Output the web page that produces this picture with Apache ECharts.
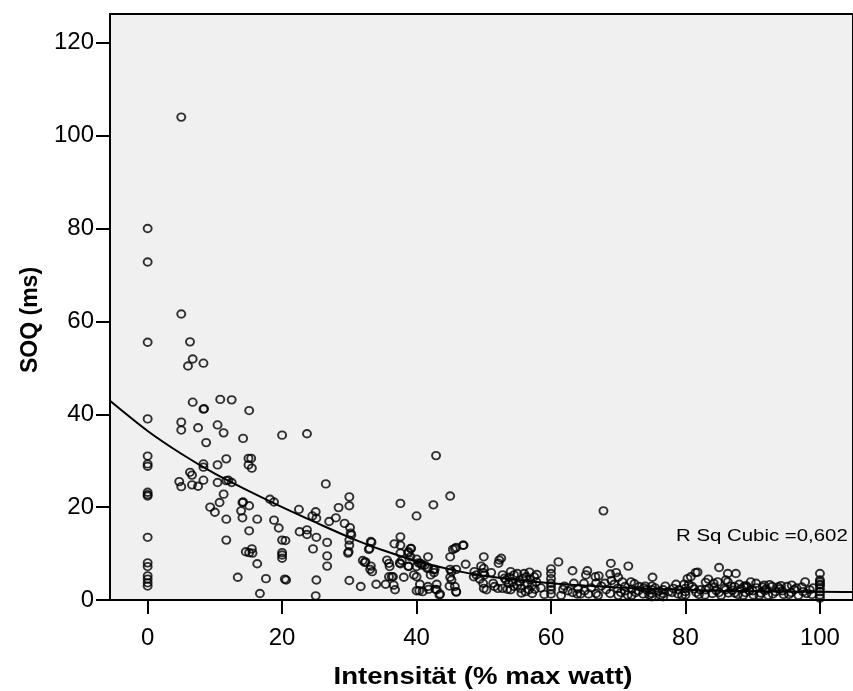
<!DOCTYPE html>
<html>
<head>
<meta charset="utf-8">
<script src="https://cdn.jsdelivr.net/npm/echarts@6/dist/echarts.min.js"></script>
<style>
html,body{margin:0;padding:0;background:#fff;}
#c{width:853px;height:691px;}
</style>
</head>
<body>
<div id="c"></div>
<script>
// ---- data ----
var xTicks = [0, 20, 40, 60, 80, 100];
var yTicks = [0, 20, 40, 60, 80, 100, 120];

var intensity = [
  0,0,0,0,0,0,0,0,0,0,0,0,0,0,0,0,0,
  5.0,5.0,6.3,6.7,6.0,8.3,6.7,8.3,8.4,10.8,12.5,15.1,5.0,5.0,7.5,10.4,11.3,8.7,14.2,20.0,23.7,
  11.7,15.0,15.4,15.0,15.5,8.3,8.3,10.4,6.3,6.6,4.7,5.0,6.6,7.5,8.3,10.4,11.7,12.0,12.5,11.3,10.7,9.3,10.0,11.7,11.7,
  14.1,14.2,15.1,13.9,14.1,16.3,15.1,14.6,15.1,15.5,15.6,16.3,13.4,16.7,17.6,18.2,18.8,18.8,19.5,20.0,20.5,20.0,20.0,20.0,20.4,20.6,
  22.5,22.6,23.7,23.7,24.5,25.0,25.1,25.1,24.6,25.1,25.0,26.5,27.0,26.7,26.7,26.7,28.4,28.0,
  30.0,30.0,29.3,30.1,30.2,30.3,30.0,30.0,29.8,29.9,33.2,32.9,32.0,32.3,33.2,33.1,33.4,30.0,31.7,34.0,35.4,35.9,36.5,36.6,36.8,
  35.6,35.9,36.0,37.6,37.6,36.7,37.6,37.6,37.6,37.8,38.8,39.2,38.8,38.1,39.6,40.0,40.0,40.0,40.0,40.0,40.4,40.5,40.6,
  32.4,33.0,33.3,39.1,38.8,39.1,37.5,38.8,40.3,40.8,41.6,42.7,36.3,
  42.5,45.0,42.9,46.9,45.9,45.4,45.0,41.7,41.2,41.7,42.5,42.6,42.1,41.7,43.0,43.0,43.5,40.9,45.0,45.2,45.9,45.0,44.9,45.7,45.9,
  47.3,48.6,48.9,48.5,50.0,49.6,50.0,49.9,50.1,51.1,49.9,50.0,50.4,49.4,51.4,51.6,52.1,52.3,52.6,52.2,52.8,53.1,53.3,52.8,53.5,53.7,
  41.8,42.8,43.4,45.2,45.9,47.0,45.7,
  54.0,54.5,55.0,56.0,56.3,57.5,54.3,55.3,56.5,57.2,54.5,55.5,56.7,57.2,54.0,
  55.8,56.9,57.8,56.2,57.6,55.0,53.8,56.8,57.9,55.6,
  61.1,60.0,60.0,60.0,60.0,60.0,60.0,60.0,63.2,65.4,65.2,64.9,63.4,61.8,63.2,63.9,64.4,65.6,66.6,66.7,66.7,
  67.8,68.9,71.5,68.8,69.7,70.0,67.1,71.9,75.1,78.6,79.8,
  67.5,68.2,68.8,69.4,69.9,70.4,71.0,71.4,72.0,72.6,73.1,73.7,74.2,74.6,75.0,75.0,75.0,75.0,76.7,76.7,76.7,77.5,78.2,78.9,69.0,70.6,72.4,73.8,76.0,
  80.8,81.5,83.4,85.0,87.5,86.0,84.2,89.7,91.7,97.8,80.0,80.0,80.0,86.3,86.3,84.8,88.7,87.3,81.8,80.3,
  81.0,81.6,82.2,82.9,83.5,84.0,84.6,85.3,85.8,86.4,87.0,87.8,88.3,88.9,89.5,90.1,90.6,91.2,91.8,92.3,92.9,93.4,94.0,94.6,95.1,95.7,96.2,96.8,97.3,98.0,98.5,
  92.5,94.2,95.8,90.5,88.0,83.0,
  100,100,100,100,100,100,100,100,100,
  58.5,59.0,61.5,62.5,62.0,64.0,65.0,66.0,67.0,68.0,70.0,71.0,72.0,73.0,74.0,75.5,76.3,77.0,78.0,79.0,79.5,
  80.5,81.3,82.0,83.0,84.3,85.0,86.0,87.3,88.6,89.2,90.0,91.0,92.0,93.0,94.4,95.4,96.5,97.5,98.8,99.0,93.8,91.5,89.0,86.8
];
var soq = [
  80.0,72.8,55.5,39.0,31.0,29.3,28.8,23.2,22.7,22.4,13.5,8.0,7.2,5.2,4.5,3.7,3.0,
  104.0,61.6,55.6,51.9,50.4,51.0,42.6,41.1,41.2,43.2,43.1,40.8,38.3,36.6,37.1,37.7,36.0,33.9,34.8,35.5,35.8,
  30.4,30.5,30.5,29.1,28.4,29.3,28.6,29.1,27.5,26.9,25.5,24.4,24.8,24.5,25.8,25.3,25.7,25.8,25.3,22.8,21.0,20.0,18.9,17.4,12.9,
  21.0,21.1,20.3,19.2,17.7,17.4,14.9,10.4,10.2,11.0,10.1,7.8,4.9,1.4,4.6,21.7,21.1,17.2,15.5,12.9,12.8,10.2,9.7,9.0,4.5,4.3,
  19.5,14.7,15.1,14.1,18.1,19.0,17.6,13.5,11.0,4.3,0.9,25.0,16.9,12.4,9.5,7.3,19.9,17.7,
  22.2,20.3,16.5,15.6,14.4,14.0,12.9,11.8,10.1,10.4,12.6,10.9,8.5,8.1,7.3,6.6,6.1,4.2,2.9,3.4,3.4,5.0,5.0,3.2,2.2,
  8.6,7.9,7.2,20.8,13.6,12.1,11.8,10.1,7.8,8.5,10.1,11.1,7.3,4.9,5.4,18.1,8.8,7.2,5.0,2.0,2.0,3.4,7.9,
  8.2,11.1,12.4,11.1,10.4,9.3,8.0,7.2,8.0,7.5,6.8,6.6,5.0,
  20.5,22.4,31.1,11.8,11.3,10.9,9.3,9.3,7.5,7.0,6.5,5.9,5.4,2.9,3.4,2.2,1.3,1.8,6.6,6.1,6.6,4.9,3.0,2.9,1.7,
  7.7,6.1,5.4,5.0,9.3,7.3,6.8,5.9,5.4,5.9,3.6,2.5,2.2,4.5,3.6,2.9,2.5,8.6,9.0,7.9,5.4,4.7,4.3,2.5,2.3,3.6,
  2.3,2.3,1.1,4.3,1.8,11.8,11.1,
  6.1,5.4,5.7,5.7,5.0,5.0,3.9,3.9,3.6,3.2,2.9,2.5,2.2,1.4,2.2,
  4.6,4.3,3.9,1.8,2.3,3.2,4.9,6.0,5.5,1.5,
  8.2,6.7,5.7,4.6,3.6,2.9,2.2,1.3,6.3,6.3,5.4,3.6,3.6,2.3,1.6,1.3,1.3,1.3,5.0,3.6,1.4,
  19.2,7.9,7.3,5.6,5.9,4.9,5.2,3.9,4.9,3.4,3.4,
  3.0,2.2,1.4,3.4,2.5,1.6,2.9,1.1,2.3,1.6,2.9,1.3,2.2,1.1,3.0,2.2,1.4,0.7,2.2,1.4,0.7,1.8,2.5,1.3,4.2,3.9,3.5,2.6,1.9,
  5.0,5.9,4.5,7.0,5.7,4.3,3.6,3.9,3.2,3.9,2.5,1.8,1.1,5.7,3.9,3.9,2.9,2.9,6.0,4.6,
  2.9,1.6,2.2,1.1,2.6,1.4,2.0,1.0,2.5,1.5,2.1,1.2,2.4,1.6,2.0,1.1,2.6,1.5,2.0,1.0,2.9,1.8,2.4,1.2,2.9,1.6,2.2,1.0,2.8,1.4,2.2,
  3.3,3.1,3.2,3.6,3.4,3.8,
  5.7,4.3,3.9,3.4,3.2,2.5,1.8,1.1,0.4,
  2.6,1.2,1.0,2.0,3.0,2.4,2.0,2.6,1.0,3.6,1.0,2.0,1.0,2.0,3.0,2.6,1.0,3.0,1.6,2.2,1.0,
  3.3,2.4,1.2,2.2,2.8,1.6,2.2,1.5,1.0,2.8,2.0,1.0,2.4,1.3,2.0,1.2,2.6,1.8,1.2,2.6,2.8,2.8,3.1,3.0
];

// cubic fit line
var fitX = [-5.6, 0, 5, 10, 15, 20, 25, 30, 35, 40, 45, 50, 55, 60, 65, 70, 75, 80, 85, 90, 95, 100, 105];
var fitY = [42.9, 36.4, 31.5, 27.2, 23.5, 20.0, 16.7, 13.5, 10.7, 8.4, 6.6, 5.2, 4.3, 3.6, 3.1, 2.7, 2.4, 2.2, 2.0, 1.9, 1.8, 1.8, 1.7];

var rsqLabel = 'R Sq Cubic =0,602';
var xTitle = 'Intensität (% max watt)';
var yTitle = 'SOQ (ms)';

// ---- build chart ----
var scatterData = intensity.map(function (v, i) { return [v, soq[i]]; });
var fitData = fitX.map(function (v, i) { return [v, fitY[i]]; });

var FONT = '"Liberation Sans", Arial, sans-serif';
var chart = echarts.init(document.getElementById('c'), null, {renderer: 'canvas'});
chart.setOption({
  animation: false,
  backgroundColor: '#ffffff',
  grid: {
    left: 110, top: 14, right: -3, bottom: 91,
    show: true, backgroundColor: '#f0f0f0', borderColor: '#000', borderWidth: 2,
    containLabel: false
  },
  xAxis: {
    type: 'value', min: -5.6, max: 104.92,
    axisLine: {show: true, onZero: false, lineStyle: {color: '#000', width: 2}},
    axisTick: {show: true, inside: false, length: 14, customValues: xTicks, lineStyle: {color: '#000', width: 2}},
    axisLabel: {show: true, customValues: xTicks, margin: 26, fontFamily: FONT, fontSize: 24, color: '#000'},
    splitLine: {show: false}
  },
  yAxis: {
    type: 'value', min: 0, max: 126.2,
    axisLine: {show: true, onZero: false, lineStyle: {color: '#000', width: 2}},
    axisTick: {show: true, inside: false, length: 14, customValues: yTicks, lineStyle: {color: '#000', width: 2}},
    axisLabel: {show: true, customValues: yTicks, margin: 16, fontFamily: FONT, fontSize: 24, color: '#000'},
    splitLine: {show: false}
  },
  series: [
    {
      type: 'scatter',
      data: scatterData,
      symbol: 'circle',
      symbolSize: [8.0, 7.5],
      itemStyle: {color: 'rgba(0,0,0,0)', borderColor: '#000', borderWidth: 1.9},
      z: 3
    },
    {
      type: 'line',
      data: fitData,
      smooth: 0.3,
      showSymbol: false,
      symbol: 'none',
      clip: true,
      lineStyle: {color: '#000', width: 2},
      z: 4
    }
  ],
  graphic: [
    {
      type: 'text',
      x: 483, y: 677,
      scaleX: 1.15,
      style: {text: xTitle, font: 'bold 24px ' + FONT, fill: '#000', textAlign: 'center', textVerticalAlign: 'middle'}
    },
    {
      type: 'text',
      x: 31, y: 320,
      rotation: Math.PI / 2,
      style: {text: yTitle, font: 'bold 23px ' + FONT, fill: '#000', textAlign: 'center', textVerticalAlign: 'middle'}
    },
    {
      type: 'text',
      x: 676, y: 528,
      scaleX: 1.2,
      style: {text: rsqLabel, font: '17px ' + FONT, fill: '#000', textVerticalAlign: 'top'}
    }
  ]
});
</script>
</body>
</html>
